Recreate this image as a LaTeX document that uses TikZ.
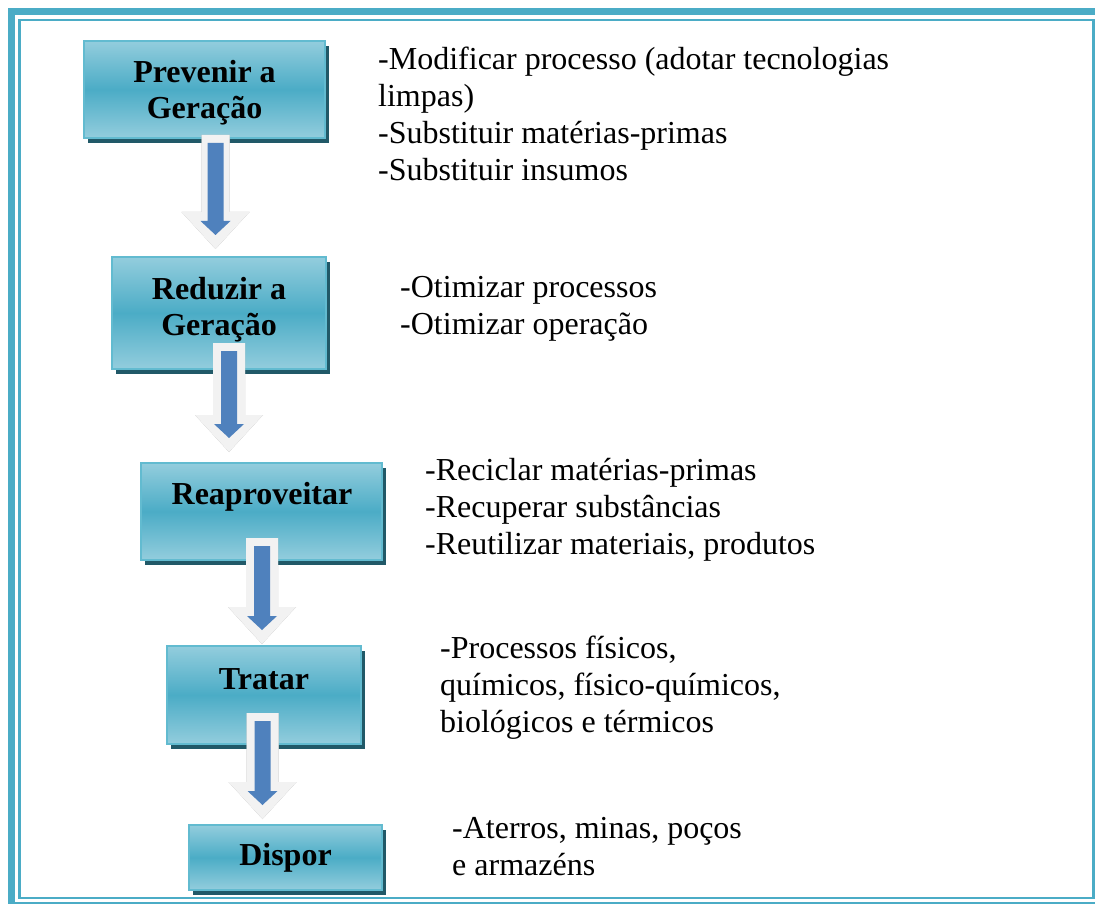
\documentclass[tikz,border=0pt]{standalone}
\usepackage{fontspec}
\setmainfont{Liberation Serif}
\usepackage{tikz}
\usetikzlibrary{calc}

\definecolor{frameteal}{HTML}{4BACC6}
\definecolor{boxlight}{HTML}{93CDDD}
\definecolor{boxmid}{HTML}{4BACC6}
\definecolor{boxedge}{HTML}{62BBD0}
\definecolor{boxshadow}{HTML}{215968}
\definecolor{arrowblue}{HTML}{4F81BD}
\definecolor{arrowwhite}{HTML}{F2F2F2}

\begin{document}
\begin{tikzpicture}[x=1pt,y=-1pt]
% Define styles
\tikzstyle{stagebox} = [rectangle, draw=boxedge, line width=2pt, top color=boxlight, bottom color=boxlight, middle color=boxmid, preaction={fill=boxshadow, transform canvas={xshift=4pt,yshift=-5pt}}]
\tikzstyle{stagetext} = [font=\fontsize{32}{36}\selectfont\bfseries, align=center, inner sep=0pt, anchor=base]
\tikzstyle{steps} = [font=\fontsize{32}{37}\selectfont, align=left, inner sep=0pt, anchor=base west]

\useasboundingbox (0,0) rectangle (1095,904);
\clip (0,0) rectangle (1095,904);

% Frame
\draw [frameteal, line width=7pt] (11.5,11.5) rectangle (1101,905.5);
\draw [frameteal, line width=2.5pt] (19.5,20) rectangle (1093.5,898);

% Draw nodes
\node (prev) [stagebox, minimum width=241, minimum height=97] at (204.5,89.5) {};
\node (red) [stagebox, minimum width=214, minimum height=112] at (219,313) {};
\node (reap) [stagebox, minimum width=241, minimum height=97] at (261.5,511.5) {};
\node (trat) [stagebox, minimum width=194, minimum height=98] at (264,695) {};
\node (disp) [stagebox, minimum width=193, minimum height=65] at (285.5,857.5) {};

% (base = last line)
\node (prevtxt) [stagetext] at (204.5,119) {Prevenir a\\Geração};
\node (redtxt) [stagetext] at (219,335) {Reduzir a\\Geração};
\node (reaptxt) [stagetext] at (262,504) {Reaproveitar};
\node (trattxt) [stagetext] at (264,689) {Tratar};
\node (disptxt) [stagetext] at (285.5,865) {Dispor};

\node (prevlist) [steps] at (378,181) {-Modificar processo (adotar tecnologias\\limpas)\\-Substituir matérias-primas\\-Substituir insumos};
\node (redlist) [steps] at (400,334) {-Otimizar processos\\-Otimizar operação};
\node (reaplist) [steps] at (425,554) {-Reciclar matérias-primas\\-Recuperar substâncias\\-Reutilizar materiais, produtos};
\node (tratlist) [steps] at (440,732) {-Processos físicos,\\químicos, físico-químicos,\\biológicos e térmicos};
\node (displist) [steps] at (452,875) {-Aterros, minas, poços\\e armazéns};

% Draw arrows
\foreach \a/\b/\x/\up/\gap/\w in {prev/red/215.5/4/7/14, red/reap/229/27/10/16, reap/trat/262/23/1/16, trat/disp/262.5/32/5/16} {
  \coordinate (ax) at (\x,0);
  \coordinate (at) at ([yshift=\up pt]\a.south -| ax);
  \coordinate (ab) at ([yshift=\gap pt]\b.north -| ax);
  \fill [gray!65, shift={(3,2)}] ($(at)+(-\w,0)$) -- ($(at)+(\w,0)$) -- ($(ab)+(\w,-37)$) -- ($(ab)+(34,-37)$) -- (ab) -- ($(ab)+(-34,-37)$) -- ($(ab)+(-\w,-37)$) -- cycle;
  \fill [arrowwhite] ($(at)+(-\w,0)$) -- ($(at)+(\w,0)$) -- ($(ab)+(\w,-37)$) -- ($(ab)+(34,-37)$) -- (ab) -- ($(ab)+(-34,-37)$) -- ($(ab)+(-\w,-37)$) -- cycle;
  \fill [arrowblue] ($(at)+(-8,8)$) -- ($(at)+(8,8)$) -- ($(ab)+(8,-28)$) -- ($(ab)+(15,-28)$) -- ($(ab)+(0,-14)$) -- ($(ab)+(-15,-28)$) -- ($(ab)+(-8,-28)$) -- cycle;
}

\end{tikzpicture}
\end{document}
